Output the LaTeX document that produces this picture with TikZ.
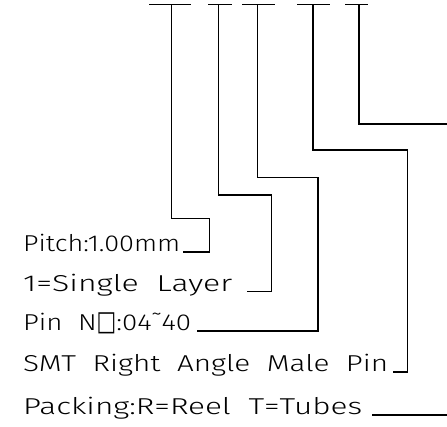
\documentclass[tikz,border=0pt]{standalone}
\usepackage{fontspec}
\setmainfont{Fira Sans Light}[WordSpace=2.0]
\newfontfamily\boxfont{DejaVu Sans}
\usepackage{graphicx}

% stretch a label to the width it has in the drawing
\newcommand{\fitlabel}[2]{\resizebox{#1}{\height}{#2}}

\tikzset{
  lead/.style={line width=1.3pt},
  tbar/.style={line width=1.3pt},
  lbl/.style={anchor=base west, inner sep=0pt, font=\fontsize{23}{27}\selectfont},
}

\begin{document}
\begin{tikzpicture}[x=1pt, y=-1pt]
    \useasboundingbox (0,0) rectangle (447,427);

    % T bars at the top
    \coordinate (t1) at (171.7,4.5);
    \coordinate (t2) at (218.3,4.5);
    \coordinate (t3) at (257.3,4.5);
    \coordinate (t4) at (313,4.5);
    \coordinate (t5) at (359,4.5);
    \draw[tbar] (149,4.5) -- (191,4.5);
    \draw[tbar] (208,4.5) -- (232,4.5);
    \draw[tbar] (242,4.5) -- (275,4.5);
    \draw[tbar] (297,4.5) -- (330,4.5);
    \draw[tbar] (345,4.5) -- (368,4.5);

    % Labels
    \node[lbl] (pitch) at (23,252) {\fitlabel{157pt}{Pitch:1.00mm}};
    \node[lbl] (layer) at (23,291.5) {\fitlabel{209pt}{1=Single Layer}};
    \node[lbl] (pinno) at (23,331) {\fitlabel{168pt}{Pin N{\boxfont\scalebox{0.75}[1.2]{□}}:04˜40}};
    \node[lbl] (smt) at (23,372) {\fitlabel{365pt}{SMT Right Angle Male Pin}};
    \node[lbl] (packing) at (23,414) {\fitlabel{339pt}{Packing:R=Reel T=Tubes}};

    % free ends on the right edge
    \coordinate (out5) at (447,124);
    \coordinate (out6) at (447,415);

    % Leads from the bars down to the labels
    \draw[lead] (t1) |- (209.3,218.3) |- ([xshift=3pt]pitch.base east);
    \draw[lead] (t2) |- (271.7,195) |- ([xshift=15pt]layer.base east);
    \draw[lead] (t3) |- (318,177.7) |- ([xshift=6pt]pinno.base east);
    \draw[lead] (t4) |- (407.7,150) |- ([xshift=5pt]smt.base east);
    \draw[lead] (t5) |- (out5);
    \draw[lead] ([xshift=10pt,yshift=-1pt]packing.base east) -- (out6);

\end{tikzpicture}
\end{document}
